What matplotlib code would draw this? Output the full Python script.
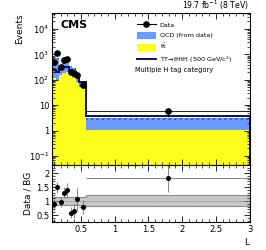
import numpy as np
import matplotlib
matplotlib.use("Agg")
import matplotlib.pyplot as plt
from matplotlib.lines import Line2D
from matplotlib.patches import Patch
from matplotlib.ticker import FixedLocator, MultipleLocator, LogLocator, NullFormatter

# ---- data ----
edges = [0.075, 0.125, 0.175, 0.225, 0.275, 0.325, 0.375, 0.425, 0.475, 0.575, 3.0]
data = [490, 1120, 330, 610, 650, 210, 183, 157, 64, 5.7]
data_err = [22, 33, 18, 25, 25, 14, 13, 12, 8, 2.4]
ttbar = [120, 100, 160, 190, 200, 170, 120, 83, 50, 1.1]
qcd = [430, 650, 190, 280, 265, 185, 165, 65, 31, 2.0]
signal = [250, 200, 290, 320, 320, 240, 190, 130, 85, 3.9]
ratio = [0.89, 1.49, 0.95, 1.30, 1.40, 0.59, 0.64, 1.06, 0.79, 1.83]
ratio_err = [0.2, 0.2, 0.18, 0.2, 0.25, 0.2, 0.25, 0.4, 0.25, 0.5]
band_lo = [0.85, 0.85, 0.85, 0.85, 0.85, 0.85, 0.85, 0.85, 0.85, 0.82]
band_hi = [1.15, 1.15, 1.15, 1.15, 1.15, 1.15, 1.15, 1.15, 1.15, 1.2]

edges = np.array(edges)
centers = 0.5 * (edges[:-1] + edges[1:])
halfw = 0.5 * (edges[1:] - edges[:-1])
ttbar = np.array(ttbar)
bkg = ttbar + np.array(qcd)

BLUE = "#6b9bff"
YELLOW = "#ffff1e"
NAVY = "#0a0a6e"

plt.rcParams['font.family'] = ['DejaVu Sans']
fig = plt.figure(figsize=(2.66, 2.5), dpi=100)
ax = fig.add_axes([0.196, 0.34, 0.742, 0.608])
rx = fig.add_axes([0.196, 0.112, 0.742, 0.228], sharex=ax)

ymin = 0.044
ax.stairs(ttbar, edges, baseline=ymin, fill=True, color=YELLOW, lw=0)
ax.stairs(bkg, edges, baseline=ttbar, fill=True, color=BLUE, lw=0)
ax.stairs(bkg, edges, baseline=bkg * 0.88, fill=False, hatch='//////', color='none',
          edgecolor='#3050a0', lw=0)
ax.stairs(signal, edges, color=NAVY, lw=1.4)
ax.errorbar(centers, data, yerr=data_err, xerr=halfw, fmt='o', color='black',
            ms=3.8, lw=0.6, capsize=0)
ax.set_yscale('log')
ax.set_ylim(ymin, 4.3e4)
ax.set_xlim(0.075, 3.0)

ax.yaxis.set_major_locator(FixedLocator([0.1, 1, 10, 100, 1000, 10000]))
ax.set_yticklabels(['$10^{-1}$', '1', '10', '$10^{2}$', '$10^{3}$', '$10^{4}$'])
ax.yaxis.set_minor_locator(LogLocator(base=10, subs=np.arange(2, 10)))
ax.yaxis.set_minor_formatter(NullFormatter())
ax.xaxis.set_major_locator(MultipleLocator(0.5))
ax.xaxis.set_minor_locator(MultipleLocator(0.1))
plt.setp(ax.get_xticklabels(), visible=False)

for a in (ax, rx):
    a.tick_params(which='both', direction='in', top=True, right=True, labelsize=6, pad=2)
    a.tick_params(which='major', length=4, width=0.6)
    a.tick_params(which='minor', length=2, width=0.5)
    for s in a.spines.values():
        s.set_linewidth(0.8)

ax.set_ylabel('Events', loc='top', fontsize=6.5, labelpad=3)
ax.text(0.04, 0.955, 'CMS', transform=ax.transAxes, fontsize=8, fontweight='bold',
        ha='left', va='top')
ax.text(1.0, 1.004, '19.7 fb$^{-1}$ (8 TeV)', transform=ax.transAxes, fontsize=5.6,
        ha='right', va='bottom')

handles = [
    Line2D([0], [0], color='black', marker='o', ms=3.8, lw=0.8),
    Patch(facecolor=BLUE, edgecolor='none'),
    Patch(facecolor=YELLOW, edgecolor='none'),
    Line2D([0], [0], color=NAVY, lw=1.4),
]
labels = ['Data', 'QCD (from data)', r't$\bar{\mathrm{t}}$', 'TT→tHtH (500 GeV/c$^2$)']
ax.legend(handles, labels, loc='upper left', bbox_to_anchor=(0.405, 0.975), frameon=False,
          fontsize=4.6, handlelength=3.0, handleheight=1.3, labelspacing=0.55,
          handletextpad=0.6, borderpad=0.2)
ax.text(0.42, 0.625, 'Multiple H tag category', transform=ax.transAxes, fontsize=4.8,
        ha='left', va='center')

# ratio panel
rx.stairs(band_hi, edges, baseline=band_lo, fill=True, color='#c8c8c8', lw=0)
rx.stairs(band_hi, edges, color='#8c8c8c', lw=0.8)
rx.stairs(band_lo, edges, color='#8c8c8c', lw=0.8)
rx.axhline(1.0, color='#909090', lw=0.6, ls=(0, (2, 1)))
rx.errorbar(centers, ratio, yerr=ratio_err, xerr=halfw, fmt='o', color='black',
            ms=2.6, lw=0.5, capsize=0, ecolor='#555555')
rx.set_ylim(0.25, 2.29)
rx.yaxis.set_major_locator(FixedLocator([0.5, 1, 1.5, 2]))
rx.set_yticklabels(['0.5', '1', '1.5', '2'])
rx.yaxis.set_minor_locator(MultipleLocator(0.1))
rx.set_ylabel('Data / BG', fontsize=6.5, labelpad=3)
rx.set_xlabel('L', loc='right', fontsize=6.5, labelpad=3)
rx.set_xticks([0.5, 1, 1.5, 2, 2.5, 3])
rx.set_xticklabels(['0.5', '1', '1.5', '2', '2.5', '3'])

fig.savefig('out.png', dpi=100)
